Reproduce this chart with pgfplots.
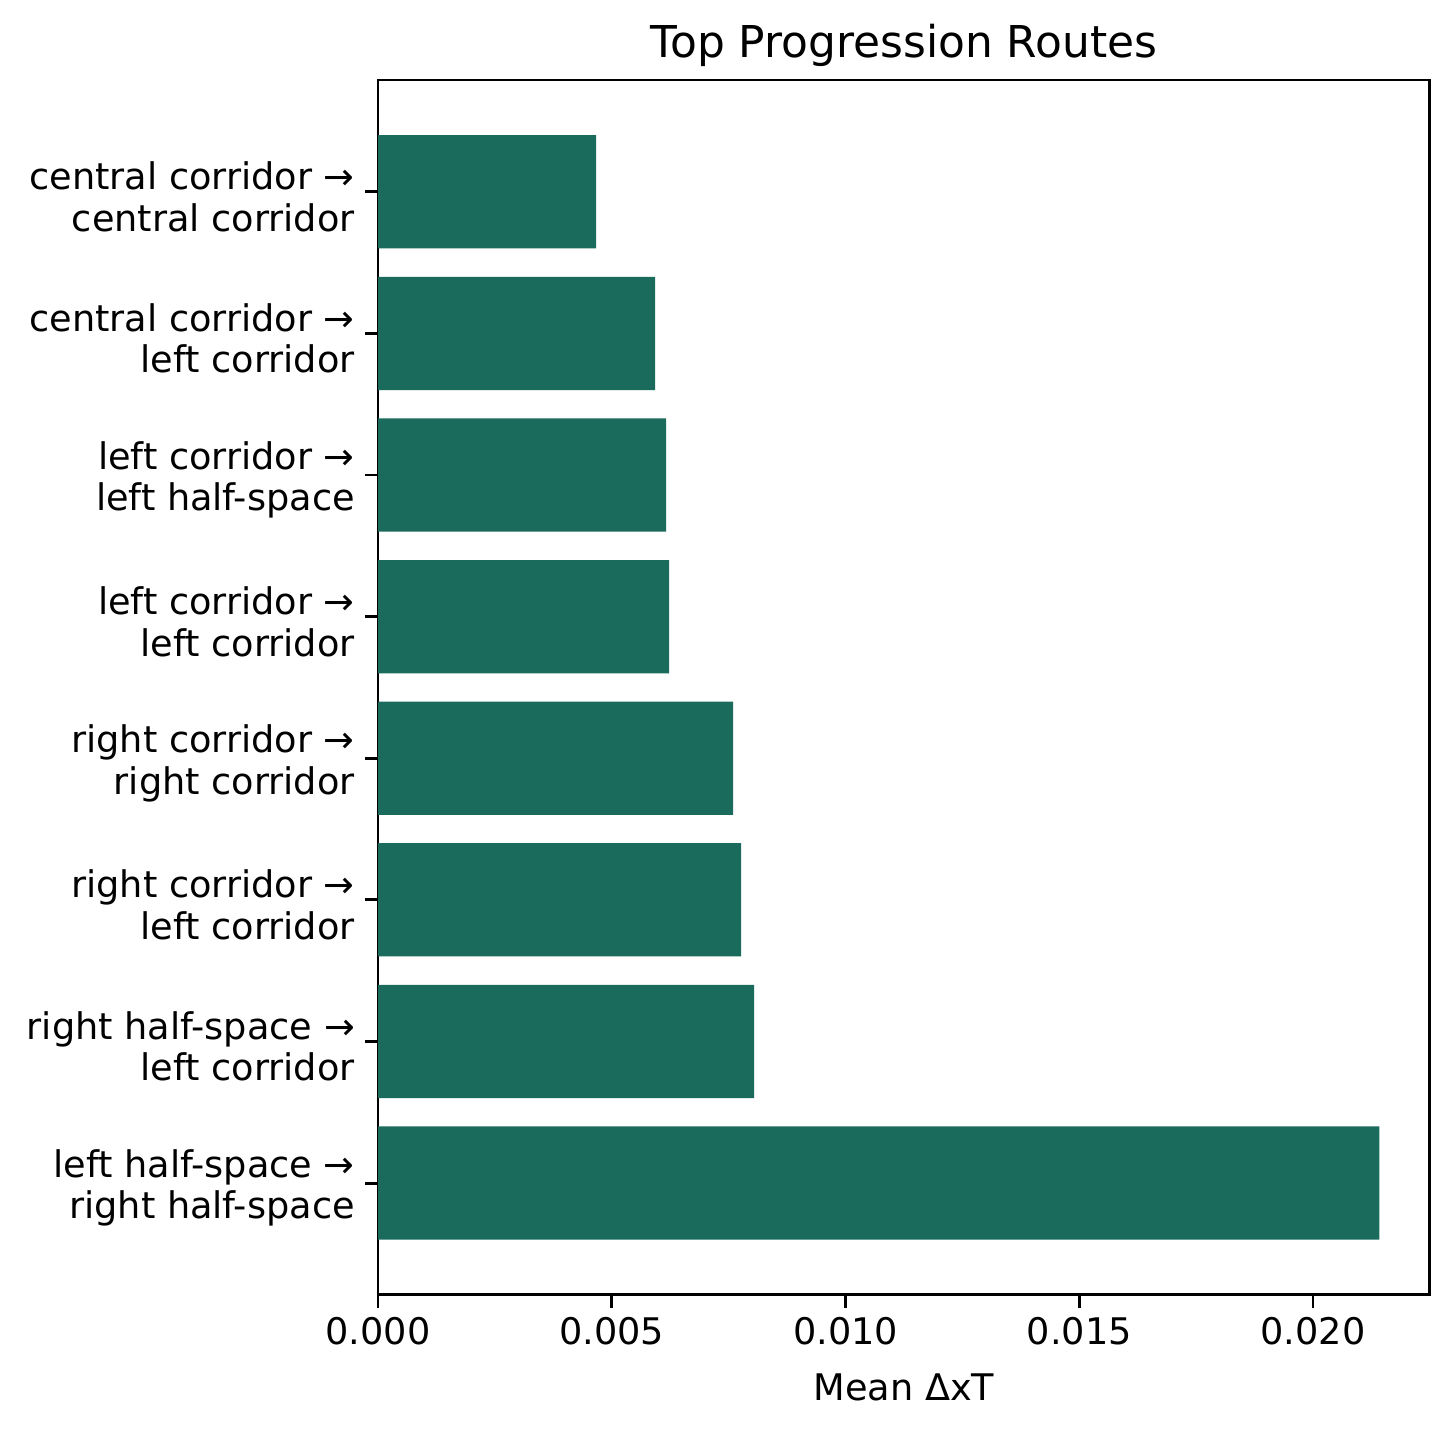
\documentclass[border=0pt]{standalone}
\usepackage{pgfplots}
\pgfplotsset{compat=1.18}
\usepackage{fontspec}
\setmainfont{DejaVu Sans}
\definecolor{barc}{RGB}{27,107,92}
\begin{document}
\begin{tikzpicture}[x=1pt,y=1pt]
\begin{axis}[
  at={(0,0)}, anchor=south west,
  scale only axis,
  width=378.7pt, height=437.4pt,
  xmin=0, xmax=0.02250,
  ymin=-0.79, ymax=7.79,
  xbar, bar width=0.8, bar shift=0pt,
  ytick={0,1,2,3,4,5,6,7},
  yticklabels={
    {left half-space →\\right half-space},
    {right half-space →\\left corridor},
    {right corridor →\\left corridor},
    {right corridor →\\right corridor},
    {left corridor →\\left corridor},
    {left corridor →\\left half-space},
    {central corridor →\\left corridor},
    {central corridor →\\central corridor}},
  yticklabel style={align=right, font=\fontsize{13.2}{15}\selectfont, inner sep=1.5pt, xshift=-2.1pt, yshift=-1.8pt},
  xtick={0,0.005,0.01,0.015,0.02},
  scaled x ticks=false,
  xticklabel style={/pgf/number format/fixed, /pgf/number format/precision=3, /pgf/number format/zerofill, /pgf/number format/assume math mode=true, font=\fontsize{13.2}{15}\selectfont},
  tick align=outside, tick pos=left,
  major tick length=4.6pt,
  every tick/.style={black, line width=1.05pt},
  axis line style={line width=1.05pt},
  xlabel={Mean ΔxT},
  xlabel style={font=\fontsize{13.2}{15}\selectfont, yshift=-3.4pt},
  title={Top Progression Routes},
  title style={font=\fontsize{15.8}{18}\selectfont, yshift=-4.6pt},
]
\addplot[fill=barc, draw=none] coordinates {
(0.02142,0) (0.008045,1) (0.007766,2) (0.007595,3) (0.006226,4) (0.006162,5) (0.005926,6) (0.004664,7)};
\end{axis}
\path[use as bounding box] (-136.1,-50.8) rectangle (388.1,466.2);
\end{tikzpicture}
\end{document}
